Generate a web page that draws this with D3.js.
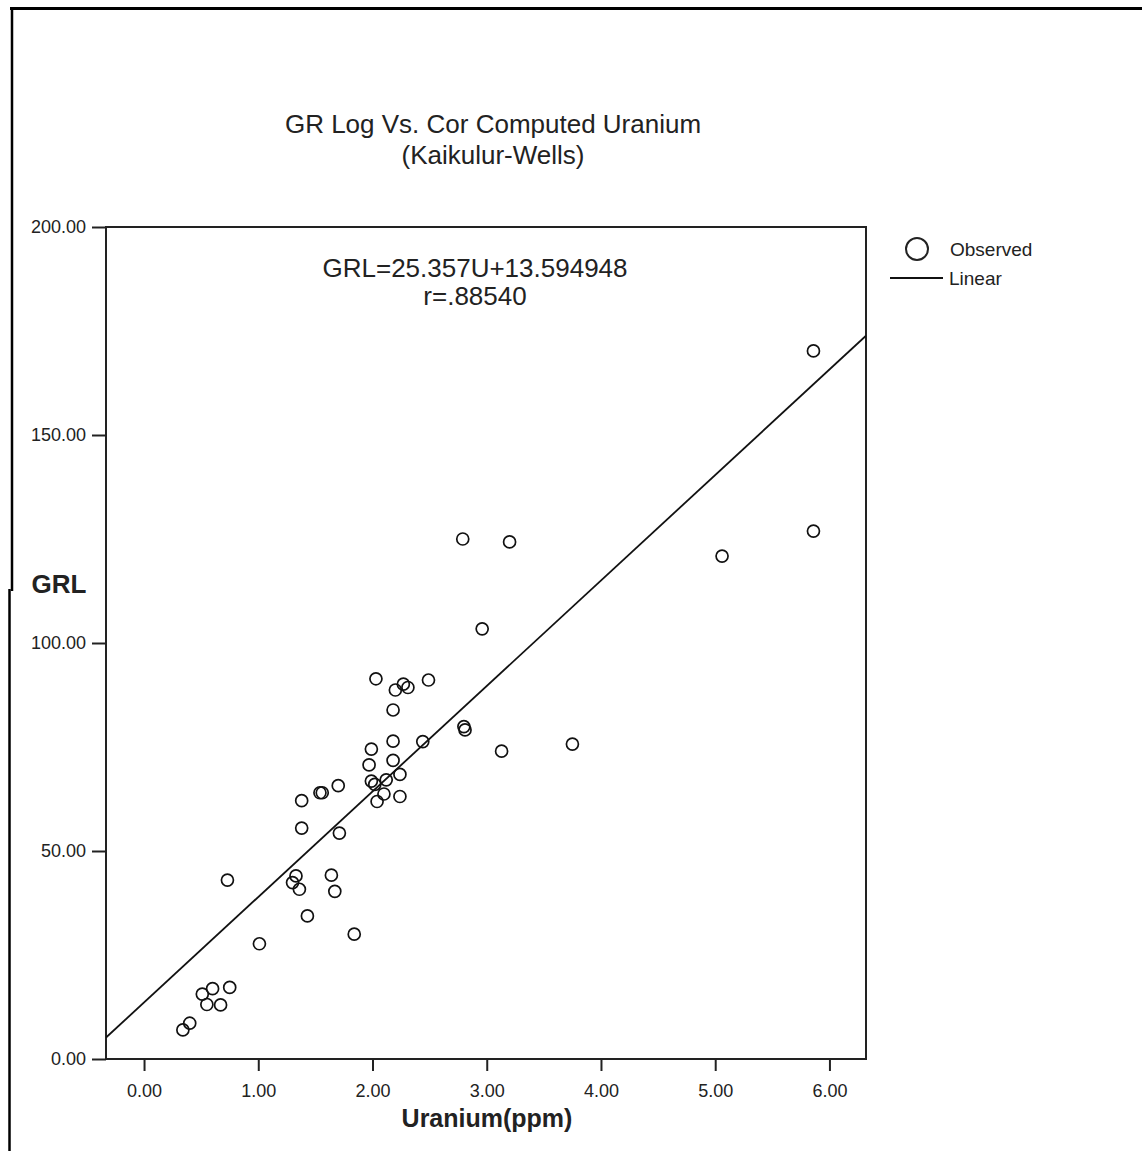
<!DOCTYPE html>
<html>
<head>
<meta charset="utf-8">
<script src="https://cdn.jsdelivr.net/npm/d3@7"></script>
<style>
  body { margin: 0; background: #fff; }
  svg text { font-family: "Liberation Sans", Arial, sans-serif; fill: #222; }
</style>
</head>
<body>
<svg id="chart" width="1142" height="1151"></svg>
<script>
// uranium (ppm) vs GR log readings
var uranium = [5.86, 5.86, 5.06, 2.79, 3.20, 2.96, 3.75, 3.13, 2.80, 2.81,
    2.44, 2.03, 2.20, 2.27, 2.31, 2.49, 2.18, 2.18, 1.99, 2.18,
    1.97, 2.24, 1.99, 2.02, 2.12, 2.10, 2.24, 2.04, 1.70, 1.54,
    1.56, 1.38, 1.38, 1.71, 1.33, 1.30, 1.36, 1.64, 1.67, 1.43,
    1.84, 0.73, 1.01, 0.75, 0.60, 0.51, 0.55, 0.67, 0.40, 0.34];
var grl = [170.2, 126.9, 120.9, 125.0, 124.3, 103.4, 75.7, 74.0, 79.9, 79.1,
    76.3, 91.4, 88.7, 90.1, 89.3, 91.1, 83.9, 76.4, 74.5, 71.8,
    70.7, 68.4, 66.8, 66.0, 67.1, 63.7, 63.1, 61.9, 65.7, 64.0,
    64.0, 62.1, 55.5, 54.3, 44.0, 42.4, 40.8, 44.2, 40.3, 34.4,
    30.0, 43.0, 27.7, 17.2, 16.9, 15.6, 13.1, 13.0, 8.6, 7.0];

var slope = 25.357, intercept = 13.594948;
var xTicks = [0, 1, 2, 3, 4, 5, 6];
var yTicks = [0, 50, 100, 150, 200];

var svg = d3.select("#chart");

// plot box edges (not named "top": that clashes with window.top)
var plotL = 106, plotR = 866, plotT = 227, plotB = 1059;

var x = d3.scaleLinear().domain([-0.333, 6.32]).range([plotL, plotR]);
var y = d3.scaleLinear().domain([0, 200]).range([plotB, plotT]);

// outer frame (top edge and slightly offset left edge)
svg.append("line").attr("x1", 10).attr("x2", 1142).attr("y1", 8.5).attr("y2", 8.5)
    .attr("stroke", "#000").attr("stroke-width", 3);
svg.append("line").attr("x1", 12).attr("x2", 12).attr("y1", 7).attr("y2", 591)
    .attr("stroke", "#000").attr("stroke-width", 2.5);
svg.append("line").attr("x1", 9.5).attr("x2", 9.5).attr("y1", 589).attr("y2", 1151)
    .attr("stroke", "#000").attr("stroke-width", 2.5);

// plot box
svg.append("rect")
    .attr("x", plotL).attr("y", plotT)
    .attr("width", plotR - plotL).attr("height", plotB - plotT)
    .attr("fill", "none").attr("stroke", "#222").attr("stroke-width", 2);

// axes
var xAxis = svg.append("g")
    .attr("transform", "translate(0," + plotB + ")")
    .call(d3.axisBottom(x).tickValues(xTicks).tickSize(12).tickPadding(13).tickFormat(d3.format(".2f")));
var yAxis = svg.append("g")
    .attr("transform", "translate(" + plotL + ",0)")
    .call(d3.axisLeft(y).tickValues(yTicks).tickSize(14).tickPadding(6).tickFormat(d3.format(".2f")));

[xAxis, yAxis].forEach(function (g) {
    g.select(".domain").remove();
    g.selectAll(".tick line").attr("stroke", "#222").attr("stroke-width", 2);
    g.selectAll(".tick text").attr("font-size", 18).attr("fill", "#333")
        .attr("font-family", "'Liberation Sans', Arial, sans-serif");
});

// clip for the fit line
svg.append("clipPath").attr("id", "plotclip")
    .append("rect").attr("x", plotL).attr("y", plotT)
    .attr("width", plotR - plotL).attr("height", plotB - plotT);

var xd = x.domain();
svg.append("line")
    .attr("clip-path", "url(#plotclip)")
    .attr("x1", x(xd[0])).attr("y1", y(slope * xd[0] + intercept))
    .attr("x2", x(xd[1])).attr("y2", y(slope * xd[1] + intercept))
    .attr("stroke", "#111").attr("stroke-width", 1.8);

// observed points
svg.append("g").selectAll("circle")
    .data(uranium.map(function (u, i) { return [u, grl[i]]; }))
    .join("circle")
    .attr("cx", function (d) { return x(d[0]); })
    .attr("cy", function (d) { return y(d[1]); })
    .attr("r", 6)
    .attr("fill", "none")
    .attr("stroke", "#111")
    .attr("stroke-width", 1.7);

// titles
svg.append("text").attr("x", 493).attr("y", 133).attr("text-anchor", "middle")
    .attr("font-size", 26).text("GR Log Vs. Cor Computed Uranium");
svg.append("text").attr("x", 493).attr("y", 164).attr("text-anchor", "middle")
    .attr("font-size", 26).text("(Kaikulur-Wells)");

svg.append("text").attr("x", 475).attr("y", 277).attr("text-anchor", "middle")
    .attr("font-size", 26).text("GRL=25.357U+13.594948");
svg.append("text").attr("x", 475).attr("y", 305).attr("text-anchor", "middle")
    .attr("font-size", 26).text("r=.88540");

// axis titles
svg.append("text").attr("x", 487).attr("y", 1127).attr("text-anchor", "middle")
    .attr("font-size", 25).attr("font-weight", "bold").attr("fill", "#111").text("Uranium(ppm)");
svg.append("text").attr("x", 59).attr("y", 593).attr("text-anchor", "middle")
    .attr("font-size", 26).attr("font-weight", "bold").attr("fill", "#111").text("GRL");

// legend
svg.append("circle").attr("cx", 917).attr("cy", 249).attr("r", 11)
    .attr("fill", "none").attr("stroke", "#222").attr("stroke-width", 2);
svg.append("text").attr("x", 950).attr("y", 256).attr("font-size", 19).text("Observed");
svg.append("line").attr("x1", 890).attr("x2", 943).attr("y1", 278).attr("y2", 278)
    .attr("stroke", "#111").attr("stroke-width", 1.8);
svg.append("text").attr("x", 949).attr("y", 285).attr("font-size", 19).text("Linear");
</script>
</body>
</html>
